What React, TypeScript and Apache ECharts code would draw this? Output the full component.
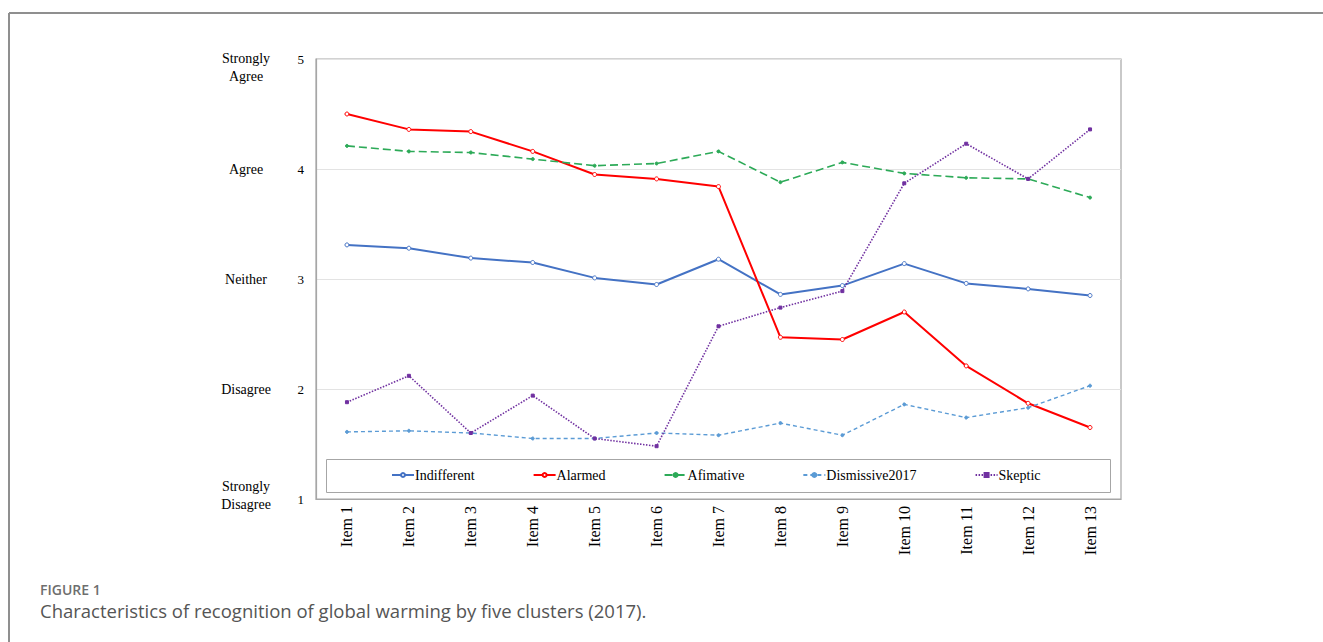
import React, { useEffect, useRef } from "react";
import * as echarts from "echarts";

const categories = ["Item 1", "Item 2", "Item 3", "Item 4", "Item 5", "Item 6", "Item 7", "Item 8", "Item 9", "Item 10", "Item 11", "Item 12", "Item 13"];
const indifferent = [3.31, 3.28, 3.19, 3.15, 3.01, 2.95, 3.18, 2.86, 2.94, 3.14, 2.96, 2.91, 2.85];
const alarmed = [4.5, 4.36, 4.34, 4.16, 3.95, 3.91, 3.84, 2.47, 2.45, 2.7, 2.21, 1.87, 1.65];
const afimative = [4.21, 4.16, 4.15, 4.09, 4.03, 4.05, 4.16, 3.88, 4.06, 3.96, 3.92, 3.91, 3.74];
const dismissive = [1.61, 1.62, 1.6, 1.55, 1.55, 1.6, 1.58, 1.69, 1.58, 1.86, 1.74, 1.83, 2.03];
const skeptic = [1.88, 2.12, 1.6, 1.94, 1.55, 1.48, 2.57, 2.74, 2.89, 3.87, 4.23, 3.91, 4.36];
const scaleLabels: Record<number, string> = {
  5: "{p| }\n{a|Strongly}\n{a|Agree}",
  4: "{a|Agree}",
  3: "{a|Neither}",
  2: "{a|Disagree}",
  1: "{a|Strongly}\n{a|Disagree}\n{q| }",
};

const SERIF = "'Liberation Serif', 'Times New Roman', serif";

export default function App() {
  const ref = useRef<HTMLDivElement>(null);
  useEffect(() => {
    if (!ref.current) return;
    const chart = echarts.init(ref.current, null, { renderer: "svg" });
    const mk = (name: string, data: number[], color: string, type: any, width: number, symbol: string, size: number, fill?: string) => ({
      name,
      type: "line",
      data,
      symbol,
      symbolSize: size,
      lineStyle: { color, width, type },
      itemStyle: { color: fill || color, borderColor: color, borderWidth: 1 },
      z: 3,
    });
    chart.setOption({
      animation: false,
      backgroundColor: "#fff",
      grid: { left: 316, right: 202, top: 59, bottom: 143, show: true, borderColor: "#a6a6a6", borderWidth: 1.2 },
      legend: {
        left: 386,
        top: 463,
        itemWidth: 22,
        itemHeight: 5,
        itemGap: 58,
        textStyle: { fontFamily: SERIF, fontSize: 14, color: "#000", padding: [0, 0, 0, -4] },
        data: ["Indifferent", "Alarmed", "Afimative", "Dismissive2017", "Skeptic"],
      },
      xAxis: {
        type: "category",
        data: categories,
        boundaryGap: true,
        axisLine: { show: true, lineStyle: { color: "#a6a6a6", width: 1.2 } },
        axisTick: { show: false },
        axisLabel: { rotate: 90, margin: 7, fontFamily: SERIF, fontSize: 16, color: "#000", interval: 0 },
      },
      yAxis: [
        {
          type: "value",
          min: 1,
          max: 5,
          interval: 1,
          axisLine: { show: true, lineStyle: { color: "#a6a6a6", width: 1.2 } },
          axisTick: { show: false },
          splitLine: { show: true, lineStyle: { color: "#e3e3e3", width: 1 } },
          axisLabel: { margin: 12, fontFamily: SERIF, fontSize: 13, color: "#000" },
        },
        {
          type: "value",
          position: "left",
          min: 1,
          max: 5,
          interval: 1,
          axisLine: { show: false },
          axisTick: { show: false },
          splitLine: { show: false },
          axisLabel: {
            margin: 70,
            align: "center",
            formatter: (v: number) => scaleLabels[v] || "",
            rich: {
              a: { fontFamily: SERIF, fontSize: 14, lineHeight: 18, color: "#000", align: "center" },
              p: { fontSize: 10, lineHeight: 16 },
              q: { fontSize: 6, lineHeight: 7 },
            },
          },
        },
      ],
      graphic: [
        { type: "line", shape: { x1: 9, y1: 13, x2: 1323, y2: 13 }, style: { stroke: "#8f8f8f", lineWidth: 2 } },
        { type: "line", shape: { x1: 9, y1: 13, x2: 9, y2: 642 }, style: { stroke: "#8f8f8f", lineWidth: 2 } },
        { type: "rect", shape: { x: 326.5, y: 459.5, width: 784, height: 33 }, style: { fill: "#fff", stroke: "#a6a6a6", lineWidth: 1 }, z: 1 },
        { type: "text", x: 40, y: 582, style: { text: "FIGURE 1", fontFamily: "'Open Sans', sans-serif", fontWeight: 600, fontSize: 14, fill: "#6e6e6e" } },
        { type: "text", x: 40, y: 601, style: { text: "Characteristics of recognition of global warming by five clusters (2017).", fontFamily: "'Open Sans', sans-serif", fontSize: 18.5, fill: "#555" } },
      ],
      series: [
        mk("Indifferent", indifferent, "#4472C4", "solid", 2, "circle", 4, "#fff"),
        mk("Alarmed", alarmed, "#FF0000", "solid", 2, "circle", 4, "#fff"),
        mk("Afimative", afimative, "#2DAA58", [8, 4], 1.6, "circle", 3),
        mk("Dismissive2017", dismissive, "#5B9BD5", [4, 3], 1.4, "circle", 3),
        mk("Skeptic", skeptic, "#7030A0", [1.5, 1.5], 1.6, "rect", 3),
      ],
    });
    return () => chart.dispose();
  }, []);
  return <div ref={ref} style={{ position: "fixed", left: 0, top: 0, width: 1323, height: 642 }} />;
}
